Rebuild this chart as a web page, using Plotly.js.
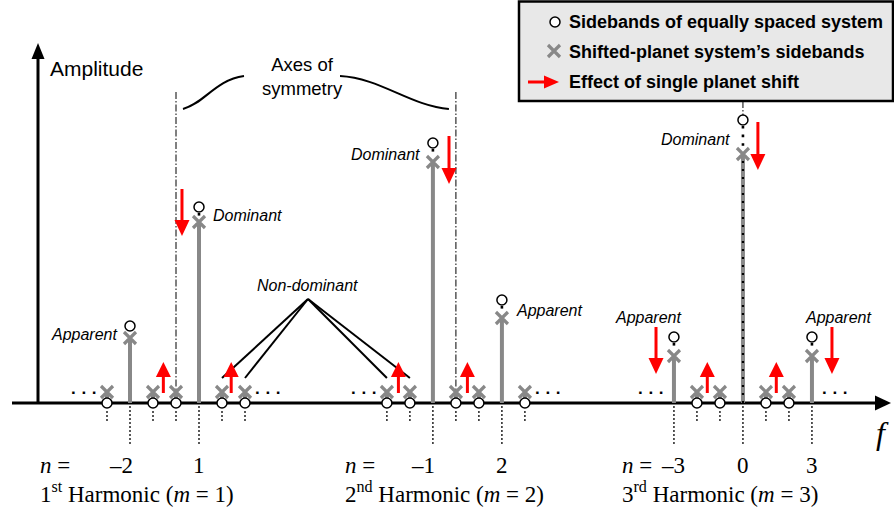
<!DOCTYPE html>
<html>
<head>
<meta charset="utf-8">
<script src="https://cdn.plot.ly/plotly-3.0.1.min.js"></script>
<style>
  html, body { margin: 0; padding: 0; background: #fff; }
  #chart { width: 894px; height: 507px; }
</style>
</head>
<body>
<div id="chart"></div>
<script>
// ---- Sideband spectrum data -------------------------------------------
// Harmonic index m and the sideband orders n shown around each harmonic
const harmonics = [1, 2, 3];
const harmonicNames = ['1<sup>st</sup> Harmonic (<i>m</i> = 1)',
                       '2<sup>nd</sup> Harmonic (<i>m</i> = 2)',
                       '3<sup>rd</sup> Harmonic (<i>m</i> = 3)'];
const sidebandOrders = [-3, -2, -1, 0, 1, 2, 3];
// frequency of the n = 0 sideband of each harmonic (units of sideband spacing)
const harmonicCentre = [0, 12.17, 24.65];
// orders that carry a peak, and what kind of peak it is
const peakOrders = [[-2, 1], [-1, 2], [-3, 0, 3]];
const peakRoles = [['Apparent', 'Dominant'], ['Dominant', 'Apparent'], ['Apparent', 'Dominant', 'Apparent']];
// peak amplitudes: equally spaced system (circles), shifted-planet system (crosses)
const equalPeakAmp   = [[0.77, 1.96], [2.60, 1.03], [0.66, 2.83, 0.66]];
const shiftedPeakAmp = [[0.65, 1.81], [2.41, 0.85], [0.47, 2.49, 0.47]];
// all other sidebands: zero when equally spaced, small once a planet is shifted
const equalSmallAmp = 0;
const shiftedSmallAmp = 0.11;
// effect of a single planet shift: order offset from centre, start/end amplitude
const shiftDownOrder = [[0.26], [-0.30], [-3.78, 0.65, 3.87]];
const shiftDownFrom  = [[2.14], [2.67], [0.76, 2.81, 0.76]];
const shiftDownTo    = [[1.67], [2.19], [0.29, 2.33, 0.29]];
const shiftUpOrder   = [[-0.55, 2.4], [-2.5, 0.5], [-1.55, 1.45]];
const shiftUpFrom = 0.10;
const shiftUpTo = 0.41;
// orders where the "Non-dominant" callout points
const nonDominantTargets = [[0, 2], [0, 3], [1, -3], [1, -2]];

// ---- Page geometry -------------------------------------------------------
const W = 894, H = 507;
const F_PX = 23, A_PX = 100;          // pixels per frequency unit / amplitude unit
const ORIGIN_X = 176, ORIGIN_Y = 403; // page position of f = 0, amplitude = 0
const fx = px => (px - ORIGIN_X) / F_PX;
const ay = py => (ORIGIN_Y - py) / A_PX;
const dF = px => px / F_PX;
const dA = px => px / A_PX;
const freq = (g, n) => harmonicCentre[g] + n;

const SANS = 'Arial, "Liberation Sans", sans-serif';
const SERIF = '"Times New Roman", "Liberation Serif", serif';
const GREY = '#888888';
const RED = '#ff0000';

const shapes = [];
const anns = [];
function seg(x0, y0, x1, y1, line) {
  shapes.push({type: 'line', xref: 'x', yref: 'y', layer: 'below', x0, y0, x1, y1, line});
}
function poly(pts, color) {
  shapes.push({type: 'path', xref: 'x', yref: 'y', layer: 'below',
    path: 'M' + pts.map(p => p[0] + ',' + p[1]).join(' L') + ' Z',
    fillcolor: color, line: {width: 0}});
}
function curve(d) {
  shapes.push({type: 'path', xref: 'x', yref: 'y', layer: 'below', path: d,
    line: {color: '#000', width: 2}});
}
function vArrow(x, a0, a1, color, len, half, w) {
  const dir = Math.sign(a1 - a0);
  const base = a1 - dir * dA(len);
  seg(x, a0, x, base + dir * dA(1), {color, width: w});
  poly([[x - dF(half), base], [x + dF(half), base], [x, a1]], color);
}
function hArrow(x0, x1, a, color, len, half, w) {
  const base = x1 - dF(len);
  seg(x0, a, base + dF(1), a, {color, width: w});
  poly([[base, a - dA(half)], [base, a + dA(half)], [x1, a]], color);
}
function text(x, y, t, o) {
  anns.push(Object.assign({x, y, xref: 'x', yref: 'y', text: t, showarrow: false,
    font: {family: SANS, size: 16, color: '#000'}}, o || {}));
}

// ---- Axes ----------------------------------------------------------------
seg(fx(12), 0, fx(876), 0, {color: '#000', width: 3});
poly([[fx(875), dA(7.5)], [fx(875), -dA(7.5)], [fx(891), 0]], '#000');
seg(fx(38), 0, fx(38), ay(58), {color: '#000', width: 3});
poly([[fx(38) - dF(6.5), ay(59)], [fx(38) + dF(6.5), ay(59)], [fx(38), ay(43)]], '#000');

// ---- Reference lines below the axis -------------------------------------
harmonics.forEach((m, g) => {
  sidebandOrders.forEach(n => {
    const f = freq(g, n);
    if (peakOrders[g].includes(n)) seg(f, -dA(3), f, ay(445), {color: '#000', width: 1.3, dash: '2px,2px'});
    else seg(f, -dA(8), f, ay(422), {color: '#000', width: 1.3, dash: '2px,2px'});
  });
});

// ---- Axes of symmetry ----------------------------------------------------
const DASHDOT = '7px,2px,1.5px,2px';
seg(freq(0, 0), ay(92), freq(0, 0), 0, {color: '#000', width: 1, dash: DASHDOT});
seg(freq(1, 0), ay(92), freq(1, 0), 0, {color: '#000', width: 1, dash: DASHDOT});
{
  const k = peakOrders[2].indexOf(0);
  seg(freq(2, 0), ay(101), freq(2, 0), equalPeakAmp[2][k] + dA(5), {color: '#000', width: 1, dash: DASHDOT});
}
// brace labelling the two symmetry axes
{
  const L = freq(0, 0), R = freq(1, 0);
  curve(`M${L + dF(7)},${ay(109)} C${L + dF(29)},${ay(103)} ${L + dF(39)},${ay(80)} ${fx(244)},${ay(76)}`);
  curve(`M${fx(340)},${ay(76)} C${fx(380)},${ay(78)} ${R - dF(45)},${ay(106)} ${R - dF(7)},${ay(109)}`);
  text((L + R) / 2 - dF(13), ay(76.5), 'Axes of<br>symmetry', {font: {family: SANS, size: 18.5, color: '#000'}});
}

// ---- Non-dominant callout --------------------------------------------------
{
  const apexX = fx(308), apexA = ay(299);
  nonDominantTargets.forEach(([g, n]) => seg(apexX, apexA, freq(g, n), ay(378), {color: '#000', width: 2}));
  text(apexX - dF(1), ay(285), '<i>Non-dominant</i>');
}

// ---- Single-planet shift arrows -------------------------------------------
harmonics.forEach((m, g) => {
  shiftDownOrder[g].forEach((o, i) =>
    vArrow(freq(g, o), shiftDownFrom[g][i], shiftDownTo[g][i], RED, 16, 7.5, 3));
  shiftUpOrder[g].forEach(o => vArrow(freq(g, o), shiftUpFrom, shiftUpTo, RED, 15, 7.5, 3));
});

// ---- Legend box -------------------------------------------------------------
shapes.push({type: 'rect', xref: 'x', yref: 'y', layer: 'below',
  x0: fx(519), x1: fx(893), y0: ay(1.5), y1: ay(101),
  fillcolor: '#e8e8e8', line: {color: '#000', width: 2.5}});
hArrow(fx(528), fx(559), ay(82), RED, 15, 6.5, 3);
const legendItems = ['Sidebands of equally spaced system', 'Shifted-planet system\u2019s sidebands', 'Effect of single planet shift'];
legendItems.forEach((t, i) => text(fx(567), ay(22 + 30 * i), t,
  {xanchor: 'left', font: {family: SANS, size: 18, color: '#000', weight: 'bold'}}));

// ---- Spectral lines ----------------------------------------------------------
const stemX = [], stemY = [], eqX = [], eqY = [], shX = [], shY = [], linkX = [], linkY = [];
harmonics.forEach((m, g) => {
  sidebandOrders.forEach(n => {
    const f = freq(g, n);
    const k = peakOrders[g].indexOf(n);
    const eq = k >= 0 ? equalPeakAmp[g][k] : equalSmallAmp;
    const sh = k >= 0 ? shiftedPeakAmp[g][k] : shiftedSmallAmp;
    stemX.push(f, f, null); stemY.push(0, sh, null);
    eqX.push(f); eqY.push(eq);
    shX.push(f); shY.push(sh);
    if (k >= 0) { linkX.push(f, f, null); linkY.push(eq - dA(6), sh + dA(6), null); }
  });
});
// dotted trace running along the centre line of the 3rd harmonic
const centreK = peakOrders[2].indexOf(0);
const centreX = [freq(2, 0), freq(2, 0)];
const centreY = [0, shiftedPeakAmp[2][centreK]];

const traces = [
  {x: stemX, y: stemY, mode: 'lines', line: {color: GREY, width: 4}, hoverinfo: 'skip'},
  {x: centreX, y: centreY, mode: 'lines', line: {color: '#000', width: 2.2, dash: '2px,6px'}, hoverinfo: 'skip'},
  {x: linkX, y: linkY, mode: 'lines', line: {color: '#000', width: 2.6, dash: '2.6px,6px'}, hoverinfo: 'skip'},
  {x: eqX, y: eqY, mode: 'markers', hoverinfo: 'skip',
   marker: {symbol: 'circle', size: 10, color: '#fff', line: {color: '#000', width: 1.5}}},
  {x: shX, y: shY, mode: 'markers', hoverinfo: 'skip',
   marker: {symbol: 'x-thin', size: 12, color: GREY, line: {color: GREY, width: 3.2}}},
  // legend symbols
  {x: [fx(555)], y: [ay(22)], mode: 'markers', hoverinfo: 'skip',
   marker: {symbol: 'circle', size: 10, color: '#fff', line: {color: '#000', width: 1.5}}},
  {x: [fx(554)], y: [ay(51)], mode: 'markers', hoverinfo: 'skip',
   marker: {symbol: 'x-thin', size: 12, color: GREY, line: {color: GREY, width: 3.2}}}
];

// ---- Peak labels ---------------------------------------------------------------
const ITAL = {family: SANS, size: 16, color: '#000'};
harmonics.forEach((m, g) => {
  peakOrders[g].forEach((n, k) => {
    const f = freq(g, n);
    const eq = equalPeakAmp[g][k], sh = shiftedPeakAmp[g][k];
    const mid = (eq + sh) / 2;
    const t = '<i>' + peakRoles[g][k] + '</i>';
    if (g === 2 && n !== 0) {
      text(f + Math.sign(n) * dF(26), eq + dA(20), t, {font: ITAL});
    } else if (n <= 0) {
      text(f, mid - dA(2), t, {xanchor: 'right', xshift: -11, font: ITAL});
    } else {
      text(f, mid - dA(1), t, {xanchor: 'left', xshift: 12, font: ITAL});
    }
  });
  // continuation dots on both sides of each harmonic group
  [-4, 4].forEach(n => text(freq(g, n), dA(11), '\u00b7 \u00b7 \u00b7',
    {font: {family: SANS, size: 17, color: '#000', weight: 'bold'}}));
});

// ---- Order numbers and harmonic names ------------------------------------------
const labelLeft = [fx(38), fx(343), fx(620)];
const minusShift = [5, 4, 13];
const SERIF_FONT = {family: SERIF, size: 23, color: '#000'};
harmonics.forEach((m, g) => {
  text(labelLeft[g], ay(465), '<i>n</i> =', {xanchor: 'left', font: SERIF_FONT});
  peakOrders[g].forEach(n => {
    if (n < 0) text(freq(g, n), ay(465), '\u2013' + Math.abs(n), {xanchor: 'right', xshift: minusShift[g], font: SERIF_FONT});
    else text(freq(g, n), ay(465), String(n), {font: SERIF_FONT});
  });
  text(labelLeft[g], ay(492), harmonicNames[g], {xanchor: 'left', font: SERIF_FONT});
});

// axis names
text(fx(48), ay(68), 'Amplitude', {xanchor: 'left', font: {family: SANS, size: 21, color: '#000'}});
text(fx(882), ay(433), '<i>f</i>', {font: {family: SERIF, size: 32, color: '#000'}});

const layout = {
  width: W, height: H,
  margin: {l: 0, r: 0, t: 0, b: 0, pad: 0},
  paper_bgcolor: '#fff', plot_bgcolor: '#fff',
  xaxis: {range: [fx(0), fx(W)], visible: false, fixedrange: true},
  yaxis: {range: [ay(H), ay(0)], visible: false, fixedrange: true},
  showlegend: false,
  shapes: shapes,
  annotations: anns
};

Plotly.newPlot('chart', traces, layout, {staticPlot: true, displayModeBar: false});
</script>
</body>
</html>
